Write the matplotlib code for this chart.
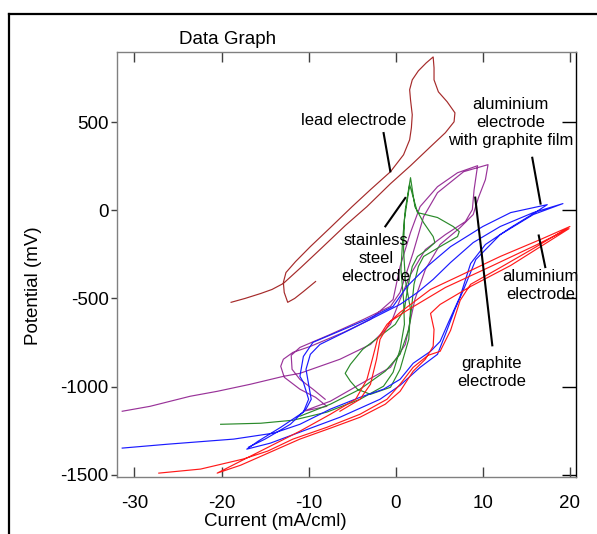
import matplotlib
matplotlib.use("Agg")
import matplotlib.pyplot as plt
from matplotlib.lines import Line2D

# ---------------- data (current mA/cml, potential mV) ----------------
lead_x = [-18.9, -17.3, -15.5, -14.2, -12.9, -10.9, -8.7, -5.8, -3.3, -0.6, 1.7, 4.0, 5.7, 6.7, 6.8,
          5.9, 4.9, 4.4, 4.4, 4.3, 3.5, 2.6, 1.9, 1.6, 1.7, 1.9, 1.8, 1.6, 0.9, -0.6,
          -2.9, -5.0, -7.5, -9.8, -11.5, -12.6, -12.9, -12.8, -12.4, -11.6, -10.6, -9.2]
lead_y = [-522, -500, -472, -449, -415, -325, -223, -87, 21, 151, 253, 361, 440, 502, 553,
          616, 672, 740, 808, 870, 836, 791, 740, 684, 627, 542, 468, 400, 315, 219,
          117, 21, -98, -206, -291, -353, -409, -466, -522, -500, -461, -404]

graphite_x = [-31.4, -28.2, -23.6, -20.5, -16.7, -12.9, -11.0, -6.4, -2.9, -0.6, 0.5, 1.7, 3.4, 5.7, 8.0,
              8.8, 9.0, 9.4, 7.1, 4.8, 2.8, 1.7, 0.5, -0.3, -2.9, -6.0, -9.8, -11.8, -12.9, -13.2,
              -12.8, -11.0, -9.2, -7.9, -10.6, -7.5, -4.1, -0.6, 1.1, 2.2, 3.4, 5.1, 7.4, 8.9,
              9.5, 10.3, 10.6, 7.8, 4.8, 3.2, 2.0, 0.5, -0.6, -3.7, -7.5, -11.0, -12.0, -11.9,
              -11.0, -9.5, -8.1]
graphite_y = [-1140, -1112, -1055, -1027, -987, -942, -925, -845, -761, -647, -506, -364, -223, -138, -64,
              4, 117, 253, 213, 134, 21, -126, -319, -506, -619, -693, -772, -806, -845, -885,
              -947, -1015, -1061, -1112, -1140, -1083, -987, -891, -761, -506, -336, -194, -98, -24,
              72, 174, 259, 219, 100, -36, -240, -466, -545, -619, -704, -778, -823, -902,
              -959, -1015, -1072]

steel_x = [-20.1, -15.5, -11.8, -7.9, -4.1, -1.4, -0.3, 0.5, 1.0, 0.9, 0.6, 0.8, 1.1, 1.7, 2.2,
           3.2, 4.3, 4.5, 3.6, 2.5, 1.9, 1.4, 1.0, -0.05, -2.0, -3.8, -5.2, -5.8, -5.2, -4.4,
           -2.9, -0.6, 0.5, 1.5, 1.7, 1.1, 0.9, 1.0, 1.6, 2.5, 4.8, 6.6, 7.3, 7.1, 5.1, 3.2,
           2.6, 2.1, 1.8, 1.5, 0.5, -1.2, -4.1, -7.5, -11.0]
steel_y = [-1214, -1208, -1191, -1145, -1072, -998, -919, -789, -647, -506, -336, -166, 4, 185, 21,
           -70, -149, -183, -223, -262, -319, -432, -562, -647, -721, -789, -874, -925, -970, -1015,
           -1044, -1004, -902, -732, -562, -392, -223, -53, 146, -13, -41, -92, -121, -149, -206, -262,
           -319, -420, -562, -676, -817, -913, -1015, -1100, -1168]

alfilm_x = [-31.4, -26.2, -18.6, -14.0, -11.0, -7.5, -4.1, -1.4, 0.5, 2.0, 4.0, 5.1, 6.0, 7.4, 8.6,
            10.3, 13.2, 16.0, 17.4, 13.2, 10.0, 6.3, 3.6, 1.3, -0.3, -3.3, -6.0, -9.5, -10.6, -11.0,
            -10.6, -10.0, -10.6, -13.2, -15.8, -17.1, -14.4, -11.3, -6.4, -1.8, 0.5, 2.8, 4.8, 5.7,
            6.8, 7.8, 9.2, 12.0, 15.8, 19.2, 15.8, 12.0, 8.9, 6.3, 4.3, 2.5, 0.5, -1.8, -5.2, -8.7,
            -9.8, -10.3, -10.0, -9.7, -10.3, -12.1, -15.0, -16.9]
alfilm_y = [-1349, -1327, -1298, -1264, -1214, -1128, -1061, -1015, -959, -868, -800, -744, -642, -488, -302,
            -194, -98, -13, 32, -13, -92, -206, -319, -432, -545, -619, -676, -749, -829, -942,
            -976, -1072, -1145, -1231, -1310, -1355, -1321, -1264, -1174, -1072, -993, -891, -817, -704,
            -562, -449, -279, -138, -24, 38, -13, -92, -183, -296, -392, -466, -534, -591, -676, -761,
            -817, -902, -987, -1072, -1128, -1214, -1298, -1344]

al_x = [-27.2, -22.4, -17.5, -14.7, -11.8, -7.9, -4.1, -1.0, 0.5, 2.0, 3.7, 5.1, 6.3, 7.4, 8.6,
        12.0, 16.0, 20.0,
        16.6, 12.0, 7.4, 4.0, 0.5, -1.0, -2.1, -2.6, -3.3, -4.6, -7.5, -11.0, -14.4, -17.8, -20.5,
        -17.8, -14.4, -11.0, -7.5, -4.1, -1.2, 0.5, 2.0, 3.4, 4.3, 4.4, 4.0, 5.1, 8.6, 13.2, 19.9,
        16.0, 10.9, 5.7, 1.1, -0.6, -1.8, -2.2, -2.9, -4.1, -6.4]
al_y = [-1491, -1468, -1411, -1366, -1298, -1231, -1157, -1072, -987, -891, -823, -800, -681, -511, -420,
        -325, -211, -92,
        -166, -262, -370, -449, -579, -647, -732, -829, -959, -1072, -1157, -1253, -1338, -1423, -1491,
        -1446, -1372, -1298, -1236, -1174, -1100, -1027, -913, -845, -772, -676, -585, -534, -432, -313, -104,
        -200, -319, -438, -574, -630, -732, -845, -987, -1072, -1140]

x_ticks = [-30, -20, -10, 0, 10, 20]
y_ticks = [500, 0, -500, -1000, -1500]

# ---------------- figure ----------------
W, H = 597, 534
fig = plt.figure(figsize=(W / 100, H / 100), dpi=100)
fig.patch.set_facecolor("white")
FONT = "Liberation Sans"

ax = fig.add_axes([117 / W, 1 - 477 / H, (576 - 117) / W, (477 - 52) / H])
ax.set_xlim(-32.0, 20.7)
ax.set_ylim(-1513, 898)

lw = 0.85
ax.plot(lead_x, lead_y, color="#a52a2a", lw=lw)
ax.plot(graphite_x, graphite_y, color="#993399", lw=lw)
ax.plot(steel_x, steel_y, color="#2a8a2a", lw=lw)
ax.plot(alfilm_x, alfilm_y, color="#1a1aff", lw=lw)
ax.plot(al_x, al_y, color="#ff1a1a", lw=lw)

for s in ("left", "bottom", "top"):
    ax.spines[s].set_color("#808080")
    ax.spines[s].set_linewidth(1.0)
ax.spines["right"].set_color("black")
ax.spines["right"].set_linewidth(1.0)

ax.set_xticks(x_ticks)
ax.set_yticks(y_ticks)
ax.set_xticklabels([str(v) for v in x_ticks])
ax.set_yticklabels([str(v) for v in y_ticks])
ax.tick_params(axis="x", direction="in", length=7, width=1, color="#404040", pad=13,
               labelsize=13.5, top=False)
ax.tick_params(axis="y", direction="out", length=4, width=1, color="#404040", pad=2,
               labelsize=13.5, right=False)
for lab in ax.get_xticklabels() + ax.get_yticklabels():
    lab.set_fontfamily(FONT)

secx = ax.secondary_xaxis("top")
secx.set_xticks(x_ticks)
secx.tick_params(direction="in", length=7, width=1, color="#404040", labeltop=False)
secx.spines["top"].set_visible(False)
secy = ax.secondary_yaxis("right")
secy.set_yticks(y_ticks)
secy.tick_params(direction="in", length=10, width=1, color="black", labelright=False)
secy.spines["right"].set_visible(False)

# titles and labels
fig.text(227.5 / W, 1 - 39 / H, "Data Graph", ha="center", va="center", fontsize=13.5, family=FONT)
fig.text(275.5 / W, 1 - 521 / H, "Current (mA/cml)", ha="center", va="center", fontsize=13.5, family=FONT)
fig.text(33 / W, 1 - 286 / H, "Potential (mV)", ha="center", va="center", rotation=90,
         fontsize=13.5, family=FONT)

# annotations
afs = 12
akw = dict(fontsize=afs, family=FONT, ha="center", va="center", linespacing=1.25)
ax.text(-4.87, 508, "lead electrode", **akw)
ax.plot([-1.39, -0.62], [438, 221], color="black", lw=1.5)
ax.text(13.15, 497, "aluminium\nelectrode\nwith graphite film", **akw)
ax.plot([15.68, 16.63], [298, 38], color="black", lw=1.5)
ax.text(-2.28, -276, "stainless\nsteel\nelectrode", **akw)
ax.plot([-1.19, 1.10], [-91, 70], color="black", lw=1.5)
ax.text(10.97, -919, "graphite\nelectrode", **akw)
ax.plot([9.13, 11.09], [72, -766], color="black", lw=1.5)
ax.text(16.65, -426, "aluminium\nelectrode", **akw)
ax.plot([16.42, 17.17], [-143, -322], color="black", lw=1.5)

# outer frame lines
fig.add_artist(Line2D([8.5 / W, 8.5 / W], [0, 1 - 13.5 / H], transform=fig.transFigure, color="black", lw=1.6))
fig.add_artist(Line2D([8.5 / W, 1], [1 - 13.5 / H, 1 - 13.5 / H], transform=fig.transFigure, color="black", lw=1.6))

fig.savefig("out.png", dpi=100)
